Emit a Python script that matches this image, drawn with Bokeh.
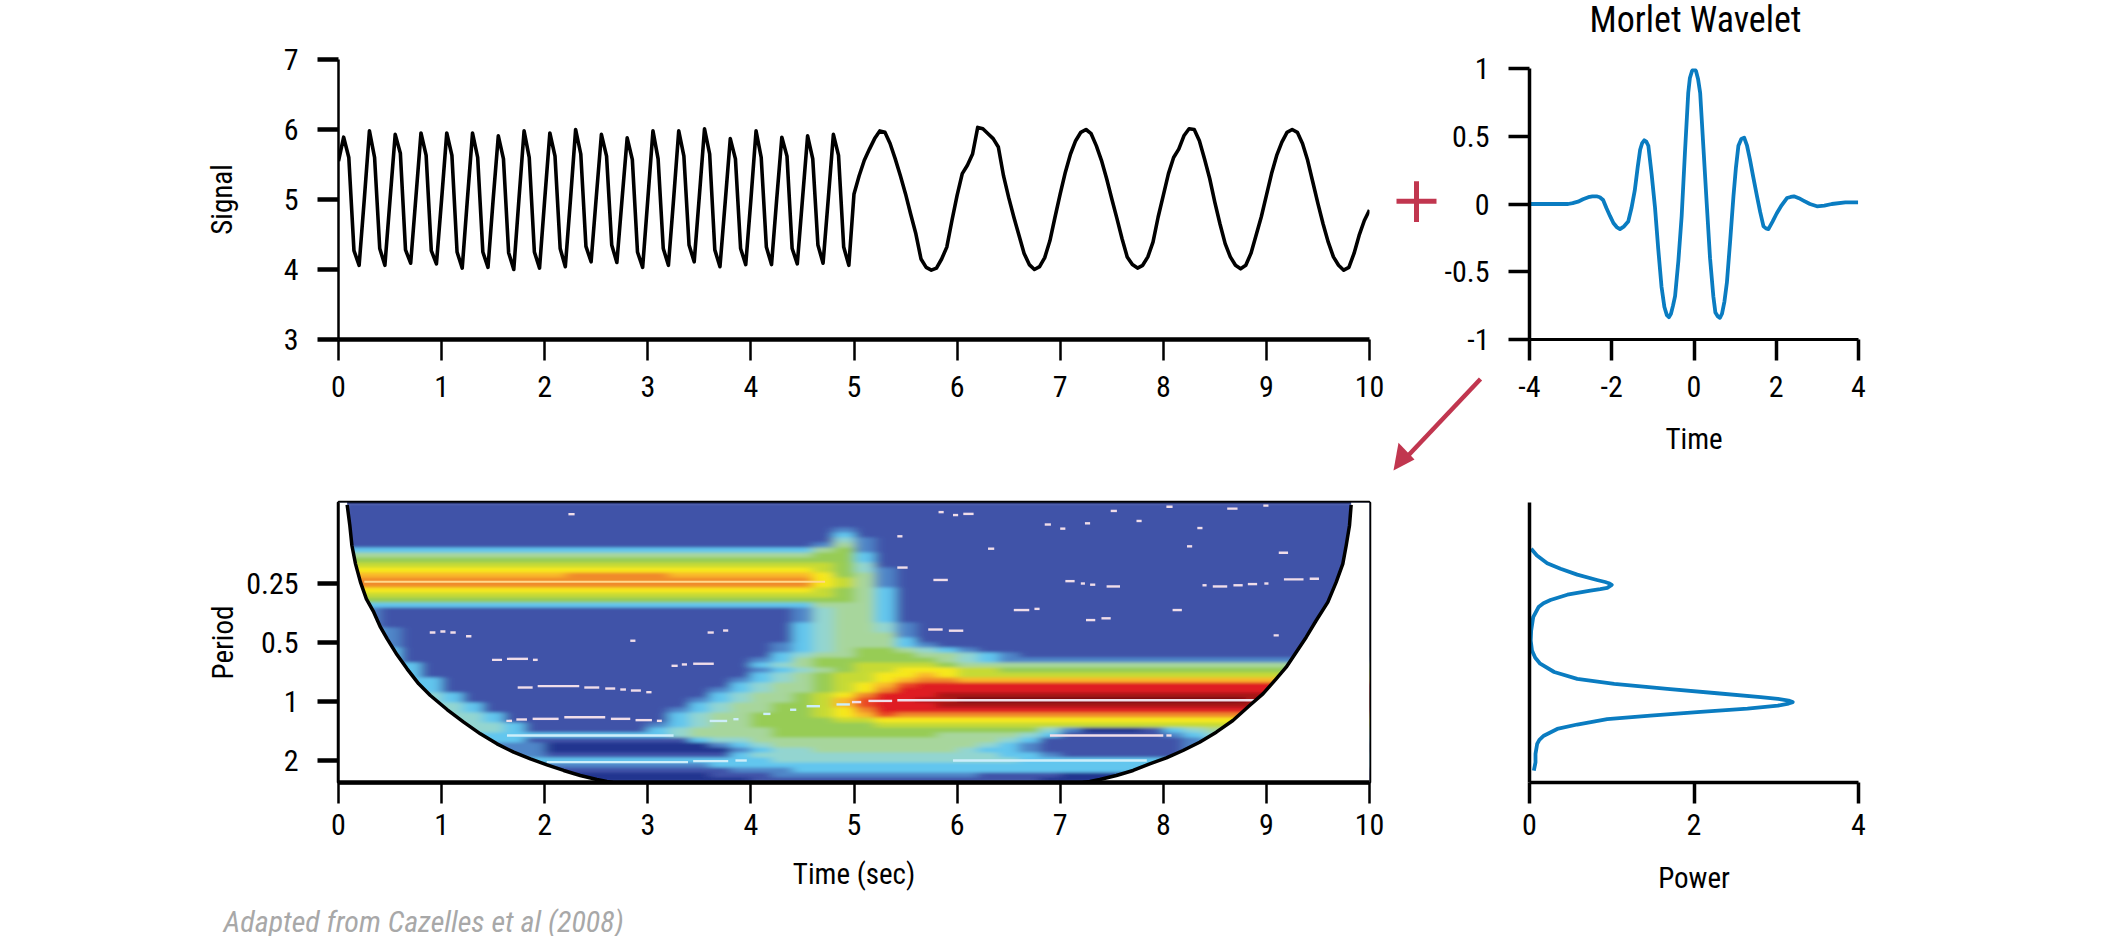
from bokeh.plotting import figure
from bokeh.layouts import column, row
from bokeh.models import Range1d, FixedTicker, LinearColorMapper, CustomJS
from bokeh.core.properties import value
from bokeh.document import Document
from bokeh.embed import file_html
from bokeh.resources import INLINE
import numpy as np

FONT = "Roboto Condensed, Roboto"
BLUE = "#0a7cc1"
RED = "#c1364f"

# signal, sampled every 0.05 s
signal_fast = [5.55,
 5.89,5.60,4.27,4.06,5.00, 5.98,5.60,4.30,4.06,5.00, 5.93,5.66,4.28,4.09,5.02, 5.95,5.63,4.27,4.08,5.00,
 5.95,5.63,4.25,4.02,5.00, 5.95,5.60,4.25,4.03,5.00, 5.91,5.58,4.24,4.00,5.00, 5.98,5.60,4.25,4.02,5.00,
 5.95,5.62,4.30,4.04,5.00, 6.00,5.65,4.33,4.11,5.03, 5.93,5.62,4.35,4.10,5.00, 5.88,5.57,4.25,4.03,5.00,
 5.98,5.58,4.30,4.06,5.00, 5.98,5.62,4.35,4.11,5.05, 6.01,5.65,4.28,4.04,4.95, 5.87,5.58,4.30,4.07,5.00,
 5.98,5.60,4.32,4.07,5.00, 5.89,5.62,4.30,4.08,5.00, 5.91,5.58,4.35,4.09,5.00, 5.93,5.63,4.32,4.06]
signal_slow = [5.08,5.34,5.56,5.72,5.87,5.98,5.96,5.80,5.58,5.34,5.08,4.79,4.51,4.15,4.03,3.99,4.02,4.15,4.32,4.70,
 5.06,5.37,5.49,5.65,6.03,6.01,5.94,5.87,5.75,5.34,5.03,4.75,4.49,4.23,4.07,4.00,4.04,4.17,4.41,4.75,
 5.08,5.39,5.65,5.84,5.96,6.00,5.94,5.77,5.56,5.30,5.01,4.73,4.44,4.18,4.07,4.02,4.06,4.18,4.39,4.75,
 5.06,5.37,5.60,5.72,5.91,6.01,6.00,5.84,5.58,5.30,4.96,4.65,4.37,4.18,4.06,4.01,4.06,4.23,4.49,4.75,
 5.06,5.37,5.63,5.82,5.96,6.00,5.96,5.80,5.56,5.25,4.94,4.65,4.39,4.18,4.06,3.99,4.03,4.23,4.49,4.70,4.85]

# Morlet wavelet
morlet_t = [-4,-3.5,-3.06,-2.95,-2.82,-2.7,-2.57,-2.47,-2.37,-2.29,-2.21,-2.13,-2.04,-1.96,-1.88,-1.80,-1.70,-1.60,-1.52,-1.44,-1.37,-1.31,-1.26,-1.21,-1.16,-1.11,-1.03,-0.95,-0.87,-0.79,-0.72,-0.66,-0.61,-0.56,-0.51,-0.46,-0.38,-0.30,-0.22,-0.14,-0.10,-0.05,0,0.05,0.10,0.15,0.23,0.31,0.39,0.47,0.52,0.58,0.63,0.68,0.74,0.80,0.88,0.96,1.02,1.08,1.15,1.22,1.29,1.36,1.44,1.53,1.61,1.69,1.75,1.81,1.91,2.01,2.13,2.26,2.35,2.43,2.55,2.66,2.82,2.99,3.17,3.35,3.68,3.99]
morlet_v = [0,0,0,0.006,0.017,0.035,0.05,0.056,0.057,0.05,0.03,-0.03,-0.09,-0.14,-0.17,-0.185,-0.165,-0.13,-0.03,0.10,0.27,0.40,0.45,0.47,0.46,0.43,0.22,-0.02,-0.33,-0.61,-0.76,-0.82,-0.835,-0.81,-0.75,-0.68,-0.42,-0.09,0.38,0.82,0.93,0.98,1.0,0.98,0.92,0.82,0.41,0.0,-0.40,-0.68,-0.80,-0.83,-0.84,-0.81,-0.72,-0.58,-0.27,0.06,0.27,0.43,0.48,0.49,0.43,0.33,0.20,0.06,-0.06,-0.165,-0.18,-0.185,-0.13,-0.07,-0.01,0.044,0.052,0.057,0.043,0.025,0.0,-0.017,-0.012,0,0.012,0.012]

# global power spectrum, log2(period)
power_p = [0.02,0.09,0.215,0.377,0.58,0.82,0.92,0.965,1.0,0.945,0.86,0.74,0.46,0.255,0.17,0.11,0.045,0.02,0.015,0.03,0.07,0.13,0.30,0.58,1.03,1.675,2.28,2.81,3.02,3.15,3.2,3.15,3.02,2.65,2.08,1.47,0.945,0.58,0.337,0.174,0.12,0.093,0.073,0.073,0.053]
power_l = [-2.59,-2.475,-2.345,-2.25,-2.15,-2.06,-2.025,-2.005,-1.977,-1.926,-1.905,-1.88,-1.81,-1.72,-1.665,-1.60,-1.43,-1.20,-1.03,-0.865,-0.74,-0.64,-0.50,-0.384,-0.30,-0.215,-0.14,-0.075,-0.045,-0.015,0.01,0.035,0.07,0.12,0.175,0.24,0.30,0.39,0.465,0.58,0.65,0.72,0.887,1.03,1.17]

# scalogram: power class per cell, top row first, last character repeats to the right
heat_rows = [
 "1","1","1","1","1",
 "1"*24+"2"+"1",
 "1"*24+"3"+"1",
 "1"*24+"4"+"2"+"1",
 "1"*23+"2"+"5"+"2"+"1",
 "3"*23+"56"+"2"+"1",
 "5"*23+"66"+"3"+"1",
 "6"*23+"66"+"3"+"1",
 "7"*23+"76"+"4"+"1",
 "8"*23+"76"+"4"+"2"+"1",
 "9"*11+"a"*5+"9"*7+"86"+"5"+"2"+"1",
 "a"*23+"87"+"5"+"2"+"1",
 "a"*23+"87"+"5"+"2"+"1",
 "8"*23+"76"+"5"+"3"+"1",
 "7"*23+"76"+"5"+"3"+"1",
 "6"*23+"66"+"5"+"3"+"1",
 "3"*23+"555"+"3"+"1",
 "22"+"1"*20+"2"+"455"+"3"+"1",
 "22"+"1"*20+"2"+"455"+"3"+"1",
 "22"+"1"*20+"2"+"455"+"3"+"1",
 "22"+"1"*20+"3"+"455"+"4"+"2"+"1",
 "332"+"1"*19+"3"+"455"+"4"+"2"+"1",
 "332"+"1"*19+"3"+"4555"+"2"+"1",
 "332"+"1"*19+"3"+"4555"+"3"+"1",
 "332"+"1"*18+"2"+"3"+"4555"+"3"+"2"+"1",
 "333"+"1"*18+"2"+"3"+"45"+"66"+"5"+"4"+"3"+"2"+"1",
 "333"+"1"*18+"3"+"45"+"5666"+"55"+"4"+"3"+"2"+"1",
 "333"+"1"*17+"2"+"3"+"5"+"6"*6+"5"+"4"+"3"+"2",
 "3333"+"1"*16+"3"+"4"+"5"+"66"+"7"*4+"6"+"55",
 "3333"+"1"*16+"2"+"3"+"4"+"5"+"6"+"77"+"888"+"77"+"6",
 "3333"+"1"*16+"3"+"4"+"5"+"6"+"77"+"88"+"9"+"8"+"7",
 "33333"+"1"*14+"2"+"3"+"4"+"5"+"6"+"77"+"8"+"9"+"aa"+"9",
 "33333"+"1"*14+"3"+"4"+"55"+"6"+"7"+"8"+"9"+"b"+"c",
 "33333"+"1"*13+"2"+"3"+"4"+"55"+"6"+"7"+"8"+"a"+"c",
 "444443"+"1"*12+"3"+"4"+"55"+"6"+"7"+"8"+"a"+"ccc"+"d",
 "444443"+"1"*11+"2"+"3"+"4"+"55"+"6"+"7"+"9"+"b"+"cc"+"dd"+"e"*14+"d",
 "4444443"+"1"*10+"3"+"4"+"55"+"66"+"7"+"9"+"b"+"ccc"+"d",
 "4444443"+"1"*9+"2"+"3"+"4"+"55"+"66"+"7"+"8"+"a"+"c",
 "44444443"+"1"*8+"3"+"4"+"55"+"666"+"7"+"8"+"9"+"b"+"a",
 "44444443"+"1"*8+"3"+"4"+"55"+"6666"+"77"+"8",
 "444444443"+"1"*6+"2"+"3"+"4"+"55"+"6"*6+"7",
 "444444443"+"1"*6+"3"+"4"+"5"*4+"6"*13+"4"+"2"+"000"+"1"+"3"+"4"+"5",
 "3"*16+"4"+"5"*4+"6"*8+"5"*4+"4"+"3"+"1"*5+"2"+"3"+"4",
 "3"*9+"1"*8+"3"+"44"+"5"*12+"4"+"3"+"1"*7+"2"+"3",
 "2"*10+"0"*8+"2"+"3"+"4"+"5"*10+"4"+"3"+"2"+"1"*7+"2",
 "2"*10+"0"*9+"2"+"3"+"44"+"5"*7+"4"+"33"+"2"+"1"*7+"2",
 "2"*10+"1"*9+"3"+"4"*12+"33"+"2"+"1"*6+"3",
 "3"*21+"4"*12+"3",
 "2"*18+"3",
 "1"*19+"2"*3+"3"*17+"2"+"1",
 "0"*18+"1"*3+"2"*10+"1"*4+"0",
 "0"*20+"1"*14+"0",
]
heat_palette = ["#24358f","#3f52a8","#4f86c8","#62c6ee","#93d5d0","#a7d69c","#97cc55","#c6da35",
                "#f6e81e","#f9b82a","#f08a2a","#ea4a26","#df1c22","#a81216","#6e0c10"]

# edge of the cone of influence: time, log2(period)
cone_left_t = [0.084,0.11,0.13,0.165,0.213,0.27,0.342,0.407,0.472,0.568,0.665,0.778,0.891,1.053,1.214,1.376,1.537,1.699,1.861,2.022,2.184,2.345,2.506,2.603,2.66]
cone_left_l = [-3.333,-2.983,-2.644,-2.333,-2.023,-1.74,-1.514,-1.26,-1.062,-0.791,-0.554,-0.299,-0.102,0.136,0.35,0.548,0.718,0.859,0.972,1.073,1.169,1.254,1.322,1.356,1.373]
cone_right_t = [7.22,7.287,7.384,7.545,7.707,7.868,8.03,8.191,8.352,8.514,8.675,8.837,8.966,9.095,9.192,9.289,9.386,9.483,9.596,9.677,9.741,9.774,9.806,9.822]
cone_right_l = [1.373,1.356,1.322,1.254,1.169,1.056,0.955,0.831,0.69,0.52,0.322,0.068,-0.13,-0.384,-0.582,-0.836,-1.09,-1.373,-1.684,-2.023,-2.333,-2.644,-2.983,-3.333]

# ridge dashes: t0, t1, log2(period)
ridges = [(0.885,0.94,-1.169),(0.988,1.037,-1.186),(1.085,1.137,-1.169),(1.237,1.289,-1.107),
 (1.489,1.586,-0.706),(1.634,1.838,-0.723),(1.886,1.932,-0.706),
 (1.738,1.883,-0.237),(1.932,2.335,-0.26),(2.384,2.529,-0.237),(2.587,2.684,-0.22),(2.733,2.788,-0.203),(2.836,2.933,-0.186),(2.985,3.036,-0.158),
 (1.628,1.683,0.328),(1.725,1.828,0.305),(1.883,2.135,0.294),(2.19,2.587,0.266),(2.642,2.83,0.294),(2.881,3.04,0.316),(3.088,3.136,0.328),
 (2.23,2.29,-3.175),(2.83,2.88,-1.03),(3.58,3.64,-1.169),(3.73,3.78,-1.203),(3.23,3.29,-0.605),(3.33,3.38,-0.628),(3.44,3.64,-0.64),
 (5.82,5.87,-3.21),(5.96,6.01,-3.16),(6.06,6.16,-3.18),(5.42,5.47,-2.80),(6.30,6.36,-2.59),(6.85,6.91,-3.0),(7.0,7.05,-2.93),(7.24,7.29,-3.02),(7.49,7.55,-3.23),(7.74,7.79,-3.06),(8.03,8.09,-3.3),(8.62,8.72,-3.27),(8.97,9.02,-3.32),(8.33,8.38,-2.94),(8.23,8.28,-2.63),(9.12,9.21,-2.52),
 (5.42,5.52,-2.27),(5.77,5.91,-2.06),(7.05,7.14,-2.04),(7.2,7.24,-2.0),(7.29,7.34,-1.98),(7.45,7.58,-1.95),(8.38,8.42,-1.97),(8.48,8.62,-1.95),(8.68,8.77,-1.97),(8.82,8.91,-1.99),(8.98,9.02,-2.0),(9.17,9.36,-2.07),(9.42,9.51,-2.08),
 (6.55,6.70,-1.55),(6.75,6.80,-1.57),(7.25,7.34,-1.38),(7.40,7.49,-1.41),(8.09,8.18,-1.55),(9.07,9.12,-1.12),(5.72,5.86,-1.22),(5.92,6.06,-1.2),
 (4.98,5.07,0.01),(5.14,5.37,-0.01),(5.42,8.92,-0.02),(6.90,8.0,0.576),(8.03,8.08,0.576)]
pale_ridges = [(1.634,3.25,0.576),(2.02,3.39,1.028),(3.44,3.78,1.011),(3.85,3.96,1.0),(5.96,7.84,1.0),
 (3.6,3.77,0.33),(3.83,3.88,0.30),(4.12,4.19,0.21),(4.38,4.44,0.14),(4.54,4.67,0.08),(4.83,4.96,0.05)]
band_ridge = [(0.25,4.72,-2.03)]

signal = signal_fast + signal_slow
signal_t = [i * 0.05 for i in range(len(signal))]
rows = [r.ljust(50, r[-1]) for r in heat_rows]
heat = np.array([[int(ch, 16) for ch in r] for r in rows], dtype=float)

Y_LOW, Y_HIGH = 1.373, -3.373
PERIOD_TICKS = {-2: "0.25", -1: "0.5", 0: "1", 1: "2"}


def style(ax, ticks, tick_w, line_w, standoff):
    ax.ticker = FixedTicker(ticks=ticks)
    ax.axis_line_width = line_w
    ax.axis_line_color = "black"
    ax.major_tick_line_width = tick_w
    ax.major_tick_line_color = "black"
    ax.major_tick_out = 21
    ax.major_tick_in = 0
    ax.minor_tick_line_color = None
    ax.major_label_text_font = FONT
    ax.major_label_text_font_size = "30px"
    ax.major_label_text_color = "black"
    ax.major_label_standoff = standoff
    ax.axis_label_text_font = FONT
    ax.axis_label_text_font_size = "29px"
    ax.axis_label_text_font_style = "normal"
    ax.axis_label_text_color = "black"


def base(width, height, xr, yr, left, right, top, bottom):
    p = figure(width=width, height=height, x_range=xr, y_range=yr, toolbar_location=None,
               output_backend="svg", min_border_left=left, min_border_right=right,
               min_border_top=top, min_border_bottom=bottom)
    p.grid.visible = False
    p.outline_line_color = None
    return p


# signal
a = base(1385, 476, Range1d(0, 10), Range1d(3, 7), 338, 16, 59, 137)
a.line(signal_t, signal, line_color="black", line_width=3.6, line_join="round")
style(a.xaxis[0], list(range(11)), 2.5, 4.5, 15)
style(a.yaxis[0], [3, 4, 5, 6, 7], 4.5, 2.5, 19)
a.yaxis[0].axis_label = "Signal"
a.yaxis[0].axis_label_standoff = 42

# wavelet
b = base(725, 476, Range1d(-4, 4), Range1d(-1, 1), 144, 252, 68, 137)
b.line(morlet_t, morlet_v, line_color=BLUE, line_width=3.8, line_join="round")
style(b.xaxis[0], [-4, -2, 0, 2, 4], 3.5, 3, 15)
b.xaxis[0].major_label_overrides = {-4: "-4", -2: "-2", 0: "0", 2: "2", 4: "4"}
style(b.yaxis[0], [-1, -0.5, 0, 0.5, 1], 3.5, 3.5, 19)
b.yaxis[0].major_label_overrides = {-1: "-1", -0.5: "-0.5", 0: "0", 0.5: "0.5", 1: "1"}
b.xaxis[0].axis_label = "Time"
b.xaxis[0].axis_label_standoff = 22

# scalogram
c = base(1385, 460, Range1d(0, 10), Range1d(Y_LOW, Y_HIGH), 338, 15, 26, 154)
mapper = LinearColorMapper(palette=heat_palette, low=-0.5, high=14.5)
c.image(image=[heat], x=0, y=Y_HIGH, dw=10, dh=Y_LOW - Y_HIGH, color_mapper=mapper)
for segs, col, w in ((band_ridge, "#ffd98a", 2), (pale_ridges, "#cdeefa", 2.4), (ridges, "#f0dde9", 2.4)):
    c.segment([s[0] for s in segs], [s[2] for s in segs], [s[1] for s in segs], [s[2] for s in segs],
              line_color=col, line_width=w, line_cap="butt")
c.patch([0, cone_left_t[0]] + cone_left_t + [0], [Y_HIGH, Y_HIGH] + cone_left_l + [Y_LOW], fill_color="white", line_color=None)
c.patch([10, cone_right_t[0]] + cone_right_t + [cone_right_t[-1], 10], [Y_LOW, Y_LOW] + cone_right_l + [Y_HIGH, Y_HIGH], fill_color="white", line_color=None)
c.line(cone_left_t, cone_left_l, line_color="black", line_width=3.5, line_join="round")
c.line(cone_right_t, cone_right_l, line_color="black", line_width=3.5, line_join="round")
style(c.xaxis[0], list(range(11)), 2.5, 4.5, 10)
style(c.yaxis[0], list(PERIOD_TICKS), 4.5, 2.5, 19)
c.yaxis[0].major_label_overrides = PERIOD_TICKS
c.yaxis[0].axis_label = "Period"
c.yaxis[0].axis_label_standoff = 3
c.xaxis[0].axis_label = "Time (sec)"
c.xaxis[0].axis_label_standoff = 19
c.outline_line_color = "black"
c.outline_line_width = 3.5

# power
d = base(725, 460, Range1d(0, 4), Range1d(Y_LOW, Y_HIGH), 144, 252, 26, 154)
d.line(power_p, power_l, line_color=BLUE, line_width=3.8, line_join="round")
style(d.xaxis[0], [0, 2, 4], 3.5, 3.5, 10)
style(d.yaxis[0], [], 3.5, 3.5, 19)
d.xaxis[0].axis_label = "Power"
d.xaxis[0].axis_label_standoff = 23

# page-wide transparent layer for the red plus, the red arrow, the heading and the source note
o = figure(width=2110, height=942, x_range=Range1d(0, 2110), y_range=Range1d(942, 0), toolbar_location=None,
           output_backend="svg", min_border=0, styles={"position": "absolute", "top": "0", "left": "0", "pointer-events": "none"})
o.axis.visible = False
o.grid.visible = False
o.outline_line_color = None
o.background_fill_color = None
o.border_fill_color = None
o.line([1396, 1436], [202, 202], line_color=RED, line_width=5)
o.line([1416, 1416], [182, 223], line_color=RED, line_width=5)
o.line([1480, 1403], [381, 463], line_color=RED, line_width=4.5)
o.patch([1393, 1414, 1398], [473, 462, 445], fill_color=RED, line_color=None)
o.text([1695], [20], text=["Morlet Wavelet"], text_font=value("Roboto Condensed"), text_font_size="36px",
       text_color="black", text_align="center", text_baseline="middle")
o.text([223], [927], text=["Adapted from Cazelles et al (2008)"], text_font=value("Roboto Condensed"), text_font_size="30px",
       text_font_style="italic", text_color="#a8a8a8", text_baseline="middle")

page = column(row(column(a, c, spacing=0), column(b, d, spacing=0), spacing=0), o, spacing=0)

# the scalogram cells are shown with a soft edge, as in the reference
soften = CustomJS(code="""
const NS = 'http://www.w3.org/2000/svg';
function walk(root) {
  root.querySelectorAll('*').forEach((el) => {
    if (el.tagName.toLowerCase() === 'image' && !el.getAttribute('filter')) {
      const svg = el.ownerSVGElement;
      const f = document.createElementNS(NS, 'filter');
      f.setAttribute('id', 'soft');
      f.setAttribute('x', '-5%'); f.setAttribute('y', '-5%');
      f.setAttribute('width', '110%'); f.setAttribute('height', '110%');
      const g = document.createElementNS(NS, 'feGaussianBlur');
      g.setAttribute('stdDeviation', '6 1.6');
      f.appendChild(g);
      svg.appendChild(f);
      el.setAttribute('filter', 'url(#soft)');
    }
    if (el.shadowRoot) walk(el.shadowRoot);
  });
}
[0, 100, 400, 1000].forEach((ms) => setTimeout(() => walk(document), ms));
""")
doc = Document()
doc.add_root(page)
doc.js_on_event("document_ready", soften)
open("out.html", "w").write(file_html(doc, INLINE))
